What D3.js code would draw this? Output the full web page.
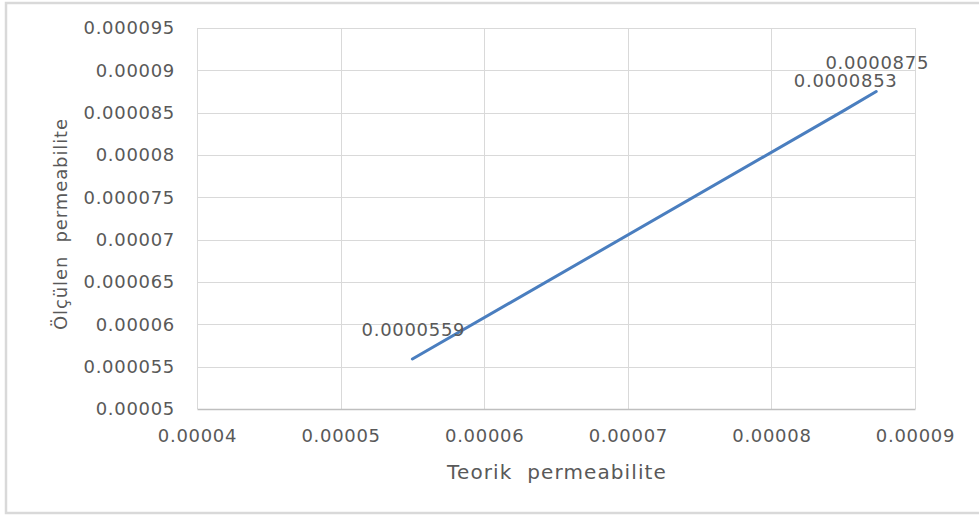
<!DOCTYPE html>
<html>
<head>
<meta charset="utf-8">
<script src="https://cdn.jsdelivr.net/npm/d3@7"></script>
<style>
  body { margin: 0; background: #fff; }
  svg text { font-family: "DejaVu Sans", sans-serif; fill: #595959; }
</style>
</head>
<body>
<div id="chart"></div>
<script>
// measured (y) vs theoretical (x) permeability
var teorik = [0.000055, 0.0000851, 0.0000873];
var olculen = [0.0000559, 0.0000853, 0.0000875];
var pointLabels = ["0.0000559", "0.0000853", "0.0000875"];

var xTicks = [0.00004, 0.00005, 0.00006, 0.00007, 0.00008, 0.00009];
var xTickLabels = ["0.00004", "0.00005", "0.00006", "0.00007", "0.00008", "0.00009"];
var yTicks = [0.00005, 0.000055, 0.00006, 0.000065, 0.00007, 0.000075, 0.00008, 0.000085, 0.00009, 0.000095];
var yTickLabels = ["0.00005", "0.000055", "0.00006", "0.000065", "0.00007", "0.000075", "0.00008", "0.000085", "0.00009", "0.000095"];

var svgWidth = 979;
var svgHeight = 519;

var margin = { top: 28, bottom: 110, right: 64, left: 197 };
var width = svgWidth - margin.left - margin.right;
var height = svgHeight - margin.top - margin.bottom;

var svg = d3.select("#chart")
  .append("svg")
  .attr("width", svgWidth)
  .attr("height", svgHeight);

// outer chart frame
svg.append("rect")
  .attr("x", 6)
  .attr("y", 3)
  .attr("width", 978)
  .attr("height", 510)
  .attr("fill", "none")
  .attr("stroke", "#d9d9d9")
  .attr("stroke-width", 2.5);

var chartGroup = svg.append("g")
  .attr("transform", `translate(${margin.left}, ${margin.top})`);

var data = teorik.map(function(t, i) {
  return { x: t, y: olculen[i], label: pointLabels[i] };
});

var xScale = d3.scaleLinear()
  .domain([xTicks[0], xTicks[xTicks.length - 1]])
  .range([0, width]);

var yScale = d3.scaleLinear()
  .domain([yTicks[0], yTicks[yTicks.length - 1]])
  .range([height, 0]);

// gridlines
chartGroup.append("g")
  .selectAll("line")
  .data(xTicks)
  .enter()
  .append("line")
  .attr("x1", d => Math.round(xScale(d)) + 0.5)
  .attr("x2", d => Math.round(xScale(d)) + 0.5)
  .attr("y1", 0)
  .attr("y2", height)
  .attr("stroke", "#d9d9d9");

chartGroup.append("g")
  .selectAll("line")
  .data(yTicks.slice(1))
  .enter()
  .append("line")
  .attr("x1", 0)
  .attr("x2", width)
  .attr("y1", d => Math.round(yScale(d)) + 0.5)
  .attr("y2", d => Math.round(yScale(d)) + 0.5)
  .attr("stroke", "#d9d9d9");

var xAxis = d3.axisBottom(xScale)
  .tickValues(xTicks)
  .tickFormat((d, i) => xTickLabels[i])
  .tickSize(0)
  .tickPadding(20);

var yAxis = d3.axisLeft(yScale)
  .tickValues(yTicks)
  .tickFormat((d, i) => yTickLabels[i])
  .tickSize(0)
  .tickPadding(22);

var xg = chartGroup.append("g")
  .attr("transform", `translate(0, ${height})`)
  .call(xAxis);
xg.select(".domain").attr("stroke", "#bfbfbf").attr("stroke-width", 1.3);

var yg = chartGroup.append("g").call(yAxis);
yg.select(".domain").remove();

chartGroup.selectAll(".tick text")
  .style("font-size", "18px")
  .style("letter-spacing", "0.7px")
  .attr("fill", "#595959");

// line
var line = d3.line()
  .x(d => xScale(d.x))
  .y(d => yScale(d.y));

chartGroup.append("path")
  .datum(data)
  .attr("d", line)
  .attr("fill", "none")
  .attr("stroke", "#4a7ebf")
  .attr("stroke-width", 3)
  .attr("stroke-linecap", "round");

// data labels
chartGroup.selectAll(".pt-label")
  .data(data)
  .enter()
  .append("text")
  .attr("class", "pt-label")
  .attr("x", d => xScale(d.x) + 1)
  .attr("y", d => yScale(d.y) - 23)
  .attr("text-anchor", "middle")
  .style("font-size", "18px")
  .style("letter-spacing", "0.7px")
  .text(d => d.label);

// axis titles
svg.append("text")
  .attr("x", 557)
  .attr("y", 479)
  .attr("text-anchor", "middle")
  .style("font-size", "20px")
  .style("letter-spacing", "1.1px")
  .attr("xml:space", "preserve")
  .text("Teorik  permeabilite");

svg.append("text")
  .attr("transform", "translate(67, 224) rotate(-90)")
  .attr("text-anchor", "middle")
  .style("font-size", "18px")
  .style("letter-spacing", "0.9px")
  .attr("xml:space", "preserve")
  .text("Ölçülen  permeabilite");
</script>
</body>
</html>
